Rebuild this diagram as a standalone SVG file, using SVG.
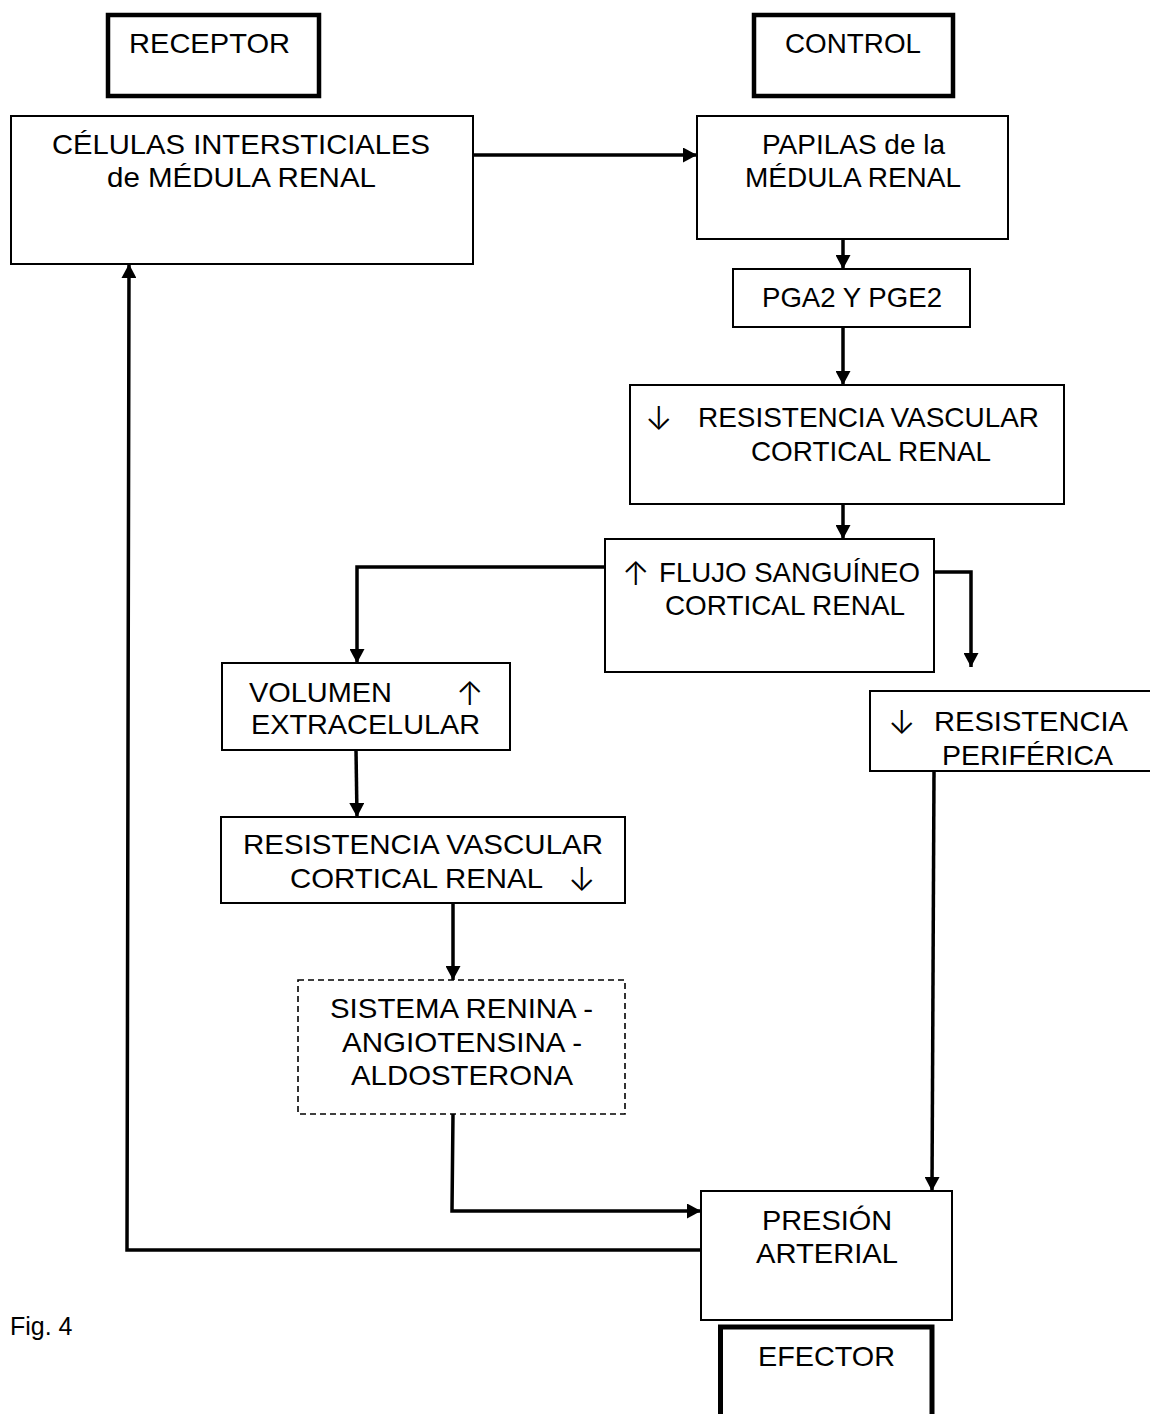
<svg xmlns="http://www.w3.org/2000/svg" width="1150" height="1414" viewBox="0 0 1150 1414">
  <defs>
    <marker id="ah" markerUnits="userSpaceOnUse" markerWidth="15" markerHeight="15" refX="14" refY="7.5" orient="auto">
      <path d="M0,0 L14,7.5 L0,15 z" fill="#000"/>
    </marker>
    <style>
      .box { fill: #fff; stroke: #000; stroke-width: 2; }
      .label { fill: #fff; stroke: #000; stroke-width: 4.5; }
      .effector { fill: #fff; stroke: #000; stroke-width: 5; }
      .dashed { fill: #fff; stroke: #000; stroke-width: 1.6; stroke-dasharray: 6 4; }
      .wire { fill: none; stroke: #000; stroke-width: 3.5; }
      .arrow { marker-end: url(#ah); }
      text { font-family: "Liberation Sans", Arial, sans-serif; font-size: 28px; fill: #000; }
      .sym { font-family: Inter, "DejaVu Sans", sans-serif; font-size: 33px; font-weight: 300; }
      .cap { font-size: 25px; }
    </style>
  </defs>
  <rect width="1150" height="1414" fill="#fff"/>

  <!-- role labels -->
  <g id="receptor">
    <rect class="label" x="108" y="15" width="211" height="81"/>
    <text x="129" y="53" textLength="161" lengthAdjust="spacingAndGlyphs">RECEPTOR</text>
  </g>
  <g id="control">
    <rect class="label" x="754" y="15" width="199" height="81"/>
    <text x="785" y="53" textLength="136" lengthAdjust="spacingAndGlyphs">CONTROL</text>
  </g>

  <!-- flow nodes -->
  <g id="celulas">
    <rect class="box" x="11" y="116" width="462" height="148"/>
    <text x="52" y="154" textLength="378" lengthAdjust="spacingAndGlyphs">CÉLULAS INTERSTICIALES</text>
    <text x="107" y="187" textLength="269" lengthAdjust="spacingAndGlyphs">de MÉDULA RENAL</text>
  </g>
  <g id="papilas">
    <rect class="box" x="697" y="116" width="311" height="123"/>
    <text x="762" y="154" textLength="183" lengthAdjust="spacingAndGlyphs">PAPILAS de la</text>
    <text x="745" y="187" textLength="216" lengthAdjust="spacingAndGlyphs">MÉDULA RENAL</text>
  </g>
  <g id="pga2">
    <rect class="box" x="733" y="269" width="237" height="58"/>
    <text x="762" y="307" textLength="180" lengthAdjust="spacingAndGlyphs">PGA2 Y PGE2</text>
  </g>
  <g id="resistencia-cortical">
    <rect class="box" x="630" y="385" width="434" height="119"/>
    <text class="sym" x="645" y="430">↓</text>
    <text x="698" y="427" textLength="341" lengthAdjust="spacingAndGlyphs">RESISTENCIA VASCULAR</text>
    <text x="751" y="461" textLength="240" lengthAdjust="spacingAndGlyphs">CORTICAL RENAL</text>
  </g>
  <g id="flujo">
    <rect class="box" x="605" y="539" width="329" height="133"/>
    <text class="sym" x="622" y="585">↑</text>
    <text x="659" y="582" textLength="261" lengthAdjust="spacingAndGlyphs">FLUJO SANGUÍNEO</text>
    <text x="665" y="615" textLength="240" lengthAdjust="spacingAndGlyphs">CORTICAL RENAL</text>
  </g>
  <g id="volumen">
    <rect class="box" x="222" y="663" width="288" height="87"/>
    <text x="249" y="702" textLength="143" lengthAdjust="spacingAndGlyphs">VOLUMEN</text>
    <text class="sym" x="456" y="705">↑</text>
    <text x="251" y="734" textLength="229" lengthAdjust="spacingAndGlyphs">EXTRACELULAR</text>
  </g>
  <g id="resistencia-periferica">
    <rect class="box" x="870" y="691" width="284" height="80"/>
    <text class="sym" x="888" y="734">↓</text>
    <text x="934" y="731" textLength="194" lengthAdjust="spacingAndGlyphs">RESISTENCIA</text>
    <text x="942" y="765" textLength="171" lengthAdjust="spacingAndGlyphs">PERIFÉRICA</text>
  </g>
  <g id="resistencia-vascular">
    <rect class="box" x="221" y="817" width="404" height="86"/>
    <text x="243" y="854" textLength="360" lengthAdjust="spacingAndGlyphs">RESISTENCIA VASCULAR</text>
    <text x="290" y="888" textLength="253" lengthAdjust="spacingAndGlyphs">CORTICAL RENAL</text>
    <text class="sym" x="568" y="891">↓</text>
  </g>
  <g id="raa">
    <rect class="dashed" x="298" y="980" width="327" height="134"/>
    <text x="330" y="1018" textLength="263" lengthAdjust="spacingAndGlyphs">SISTEMA RENINA -</text>
    <text x="342" y="1052" textLength="240" lengthAdjust="spacingAndGlyphs">ANGIOTENSINA -</text>
    <text x="351" y="1085" textLength="222" lengthAdjust="spacingAndGlyphs">ALDOSTERONA</text>
  </g>
  <g id="presion">
    <rect class="box" x="701" y="1191" width="251" height="129"/>
    <text x="762" y="1230" textLength="130" lengthAdjust="spacingAndGlyphs">PRESIÓN</text>
    <text x="756" y="1263" textLength="142" lengthAdjust="spacingAndGlyphs">ARTERIAL</text>
  </g>
  <g id="efector">
    <rect class="effector" x="720.5" y="1327" width="211.5" height="100"/>
    <text x="758" y="1366" textLength="137" lengthAdjust="spacingAndGlyphs">EFECTOR</text>
  </g>

  <text class="cap" x="10" y="1335">Fig. 4</text>

  <!-- connectors -->
  <g id="connectors">
    <path class="wire arrow" d="M473,155 H697"/>
    <path class="wire arrow" d="M843,239 V269"/>
    <path class="wire arrow" d="M843,327 V385"/>
    <path class="wire arrow" d="M843,504 V539"/>
    <path class="wire arrow" d="M605,567 H357 V663"/>
    <path class="wire arrow" d="M934,572 H971 V667"/>
    <path class="wire arrow" d="M356,750 L357,817"/>
    <path class="wire arrow" d="M453,903 V980"/>
    <path class="wire arrow" d="M453,1114 L452,1211 H701"/>
    <path class="wire arrow" d="M934,771 L932,1191"/>
    <path class="wire arrow" d="M701,1250 H127 L129,264"/>
  </g>
</svg>
